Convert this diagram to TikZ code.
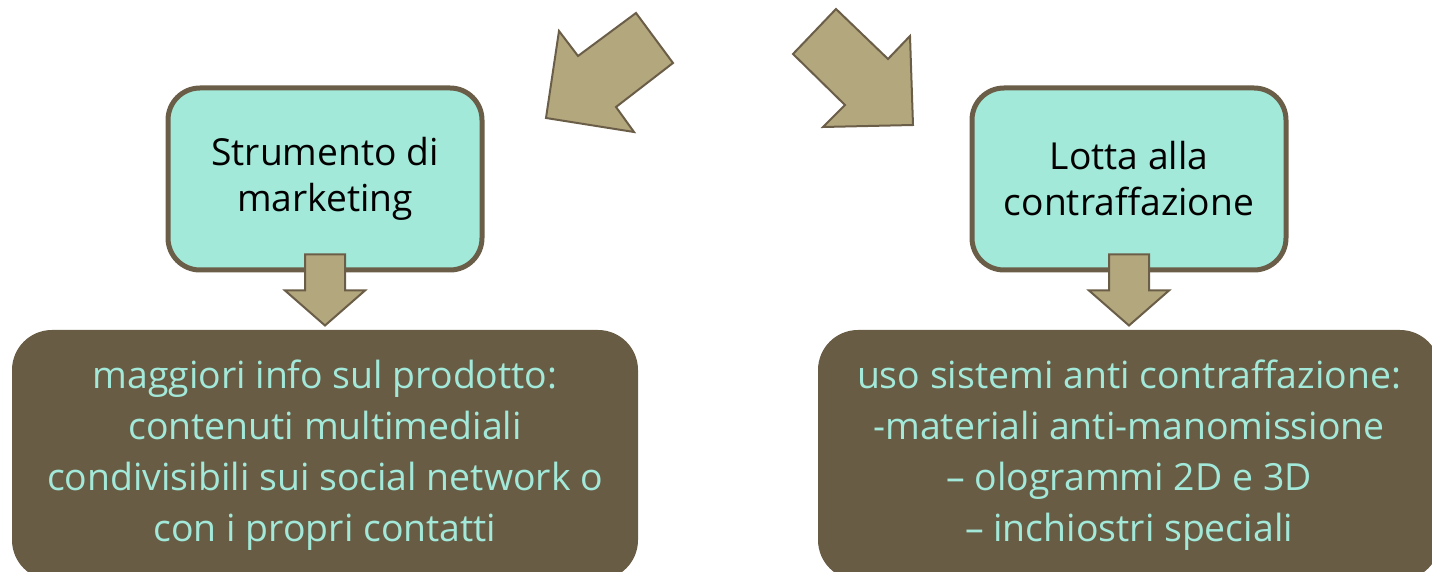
\documentclass[tikz,border=0pt]{standalone}
\usepackage{fontspec}
\setmainfont{Open Sans}
\usepackage{tikz}
\usetikzlibrary{positioning,calc}

\definecolor{tealfill}{HTML}{A3E9D9}
\definecolor{boxline}{HTML}{6B5E48}
\definecolor{darkfill}{HTML}{695C45}
\definecolor{arrowfill}{HTML}{B3A77E}

\tikzset{
  topbox/.style={draw=boxline, fill=tealfill, line width=2.5pt, rounded corners=16pt,
    minimum width=157pt, minimum height=91pt, align=center, text=black,
    font=\fontsize{18.6}{23}\selectfont},
  infobox/.style={fill=darkfill, rounded corners=20pt, minimum height=125pt,
    align=center, text=tealfill, font=\fontsize{18.7}{25.5}\selectfont},
  pointer/.style={draw=boxline, fill=arrowfill, line width=1pt, line join=miter}
}

\begin{document}
\begin{tikzpicture}[x=0.5pt, y=-0.5pt]
            \useasboundingbox (0,0) rectangle (1432,572);
            % bottom boxes
            \node[infobox, minimum width=313pt] (info) at (325,455) {maggiori info sul prodotto:\\contenuti multimediali\\condivisibili sui social network o\\con i propri contatti};
            \node[infobox, minimum width=311pt] (anti) at (1129,455) {uso sistemi anti contraffazione:\\-materiali anti-manomissione\\– ologrammi 2D e 3D\\– inchiostri speciali};
            % top boxes
            \node[topbox] (mkt) at (325,179) {Strumento di\\marketing};
            \node[topbox] (lotta) at (1129,179) {Lotta alla\\contraffazione};
            % down arrows
            \draw[pointer, shift={(mkt.south)}] (-20,-18) -- (20,-18) -- (20,18) -- (40,18) -- (0,53) -- (-40,18) -- (-20,18) -- cycle;
            \draw[pointer, shift={(lotta.south)}] (-20,-18) -- (20,-18) -- (20,18) -- (40,18) -- (0,53) -- (-40,18) -- (-20,18) -- cycle;
            % big arrows
            \draw[pointer] (559,31) -- (578,56) -- (636,13) -- (673,63) -- (616,107) -- (634,132) -- (546,118) -- cycle;
            \draw[pointer] (836,9) -- (888,59) -- (910,36) -- (913,125) -- (823,127) -- (845,105) -- (793,54) -- cycle;
        \end{tikzpicture}
\end{document}
